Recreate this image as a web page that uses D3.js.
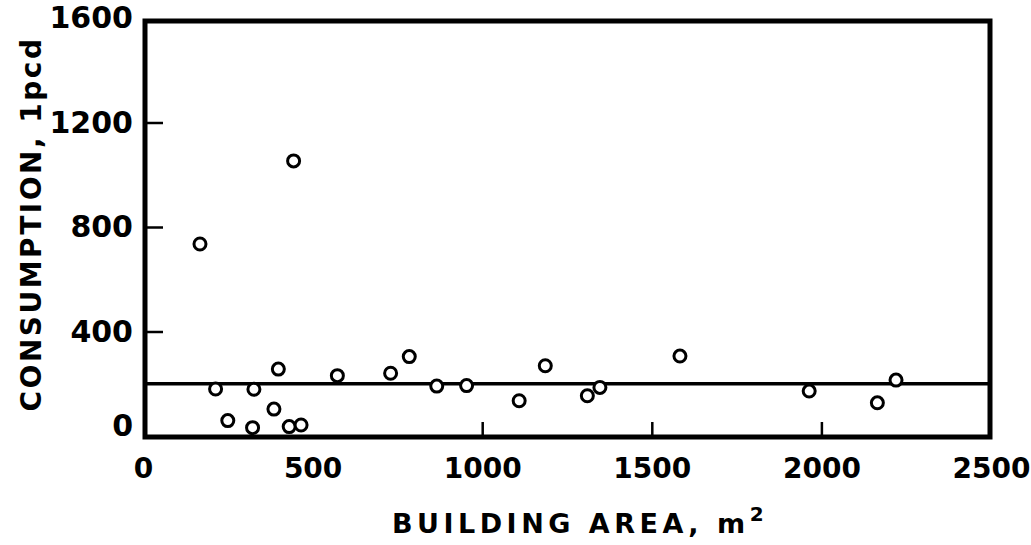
<!DOCTYPE html>
<html>
<head>
<meta charset="utf-8">
<script src="https://cdn.jsdelivr.net/npm/d3@7"></script>
<style>
	body { margin: 0; background: #fff; }
	svg text { font-family: "DejaVu Sans", sans-serif; font-weight: bold; fill: #000; }
</style>
</head>
<body>
<div id="chart"></div>
<script>
// building area (m2) vs consumption (lpcd)
var area = [168, 444, 214, 327, 399, 573, 730, 785, 866, 954, 1109, 1186,
	250, 386, 323, 431, 466, 1310, 1347, 1583, 1964, 2165, 2220];
var consumption = [735, 1053, 180, 179, 256, 231, 240, 304, 191, 193, 135, 269,
	59, 103, 32, 36, 42, 154, 186, 306, 172, 127, 214];
var meanLine = 200;

var xTicks = [0, 500, 1000, 1500, 2000, 2500];
var yTicks = [0, 400, 800, 1200, 1600];

var width = 1031, height = 545;
var x = d3.scaleLinear().domain([0, 2500]).range([143, 991]);
var y = d3.scaleLinear().domain([0, 1600]).range([436, 18]);

var svg = d3.select("#chart").append("svg")
	.attr("width", width)
	.attr("height", height);

// frame
svg.append("path")
	.attr("d", "M145,21H990V437H145Z")
	.attr("fill", "none")
	.attr("stroke", "#000")
	.attr("stroke-width", 5)
	.attr("stroke-linejoin", "miter");

// x axis: inward ticks, labels below
var gx = svg.append("g")
	.attr("transform", "translate(0,437)")
	.call(d3.axisBottom(x).tickValues(xTicks).tickSize(-15).tickPadding(21).tickFormat(d3.format("d")));
gx.select(".domain").remove();
gx.selectAll(".tick line")
	.attr("stroke-width", 2.5)
	.attr("display", function(d) { return (d == 1000 || d == 1500 || d == 2000) ? null : "none"; });
gx.selectAll(".tick text")
	.attr("font-size", 28)
	.attr("font-family", null);

// y axis
var gy = svg.append("g")
	.attr("transform", "translate(145,0)")
	.call(d3.axisLeft(y).tickValues(yTicks).tickSize(-18).tickPadding(12).tickFormat(d3.format("d")));
gy.select(".domain").remove();
gy.selectAll(".tick line")
	.attr("stroke-width", 2.5)
	.attr("display", function(d) { return (d == 0 || d == 1600) ? "none" : null; });
gy.selectAll(".tick text")
	.attr("font-size", 30)
	.attr("font-family", null)
	.attr("dy", function(d) { return d == 0 ? "-0.02em" : "0.33em"; });

// reference line
svg.append("line")
	.attr("x1", 145).attr("x2", 990)
	.attr("y1", y(meanLine)).attr("y2", y(meanLine))
	.attr("stroke", "#000")
	.attr("stroke-width", 3.5);

// points
svg.selectAll("circle.pt")
	.data(d3.range(area.length))
	.enter()
	.append("circle")
	.attr("class", "pt")
	.attr("cx", function(i) { return x(area[i]); })
	.attr("cy", function(i) { return y(consumption[i]); })
	.attr("r", 6)
	.attr("fill", "#fff")
	.attr("stroke", "#000")
	.attr("stroke-width", 3);

// axis titles
var xt = svg.append("text")
	.attr("x", 580)
	.attr("y", 533)
	.attr("text-anchor", "middle")
	.attr("font-size", 27)
	.attr("letter-spacing", 4.5);
xt.append("tspan").text("BUILDING AREA, m");
xt.append("tspan").attr("dy", -12).attr("font-size", 20).text("2");

svg.append("text")
	.attr("transform", "translate(41,224) rotate(-90)")
	.attr("text-anchor", "middle")
	.attr("font-size", 28)
	.attr("letter-spacing", 2.5)
	.text("CONSUMPTION, 1pcd");
</script>
</body>
</html>
